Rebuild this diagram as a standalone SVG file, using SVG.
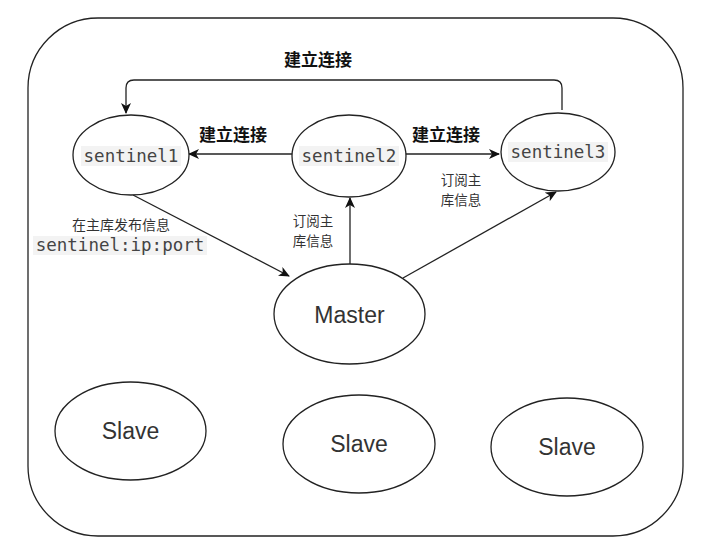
<svg xmlns="http://www.w3.org/2000/svg" width="702" height="558" viewBox="0 0 702 558">
<defs>
<marker id="arr" markerWidth="12" markerHeight="10" refX="10" refY="5" orient="auto" markerUnits="userSpaceOnUse">
<path d="M0,0 L11,5 L0,10 L3,5 z" fill="#111"/>
</marker>
<style>
.node{fill:#fff;stroke:#222;stroke-width:1.3}
.conn{fill:none;stroke:#222;stroke-width:1.3;marker-end:url(#arr)}
.mono{font-family:"DejaVu Sans Mono","Liberation Mono",monospace;font-size:17.5px;fill:#444;text-anchor:middle}
.bg{fill:#f3f3f3}
.big{font-family:"Liberation Sans",Arial,sans-serif;font-size:23px;fill:#333;text-anchor:middle}
.lbl{font-family:"Noto Sans CJK SC","DejaVu Sans",sans-serif;font-size:14px;fill:#333;text-anchor:middle}
.lbl2{font-family:"Noto Sans CJK SC","DejaVu Sans",sans-serif;font-size:13.5px;fill:#333;text-anchor:middle}
.bold{font-family:"Noto Sans CJK SC","DejaVu Sans",sans-serif;font-size:17px;font-weight:bold;fill:#111;text-anchor:middle}
</style>
</defs>
<rect x="28" y="18" width="655" height="518" rx="70" ry="70" fill="#fff" stroke="#222" stroke-width="1.3"/>
<g id="connectors">
<path class="conn" d="M562,110 L562,88 Q562,80 554,80 L134,80 Q126,80 126,88 L126,113"/>
<line class="conn" x1="292" y1="154" x2="189" y2="154"/>
<line class="conn" x1="406" y1="154" x2="499" y2="154"/>
<line class="conn" x1="133" y1="195" x2="289" y2="276"/>
<line class="conn" x1="350" y1="264" x2="350" y2="198"/>
<line class="conn" x1="403" y1="278" x2="556" y2="192"/>
<text class="bold" x="318" y="66">建立连接</text>
<text class="bold" x="233" y="141">建立连接</text>
<text class="bold" x="446" y="141">建立连接</text>
<text class="lbl" x="121" y="230">在主库发布信息</text>
<rect class="bg" x="33" y="236" width="174" height="19"/>
<text class="mono" x="120" y="251">sentinel:ip:port</text>
<text class="lbl2" x="313" y="226">订阅主</text>
<text class="lbl2" x="313" y="246">库信息</text>
<text class="lbl2" x="461" y="185">订阅主</text>
<text class="lbl2" x="461" y="205">库信息</text>
</g>
<g id="sentinel1">
<ellipse class="node" cx="131" cy="155" rx="58" ry="40"/>
<rect class="bg" x="81" y="146" width="100" height="20"/>
<text class="mono" x="131" y="162">sentinel1</text>
</g>
<g id="sentinel2">
<ellipse class="node" cx="349" cy="156" rx="57" ry="41"/>
<rect class="bg" x="299" y="146" width="100" height="20"/>
<text class="mono" x="349" y="162">sentinel2</text>
</g>
<g id="sentinel3">
<ellipse class="node" cx="558" cy="152" rx="57" ry="39"/>
<rect class="bg" x="508" y="142" width="100" height="20"/>
<text class="mono" x="558" y="158">sentinel3</text>
</g>
<g id="master">
<ellipse class="node" cx="349.5" cy="314" rx="75.5" ry="50"/>
<text class="big" x="349.5" y="323">Master</text>
</g>
<g id="slave1">
<ellipse class="node" cx="130.5" cy="431" rx="75.5" ry="49"/>
<text class="big" x="130.5" y="439">Slave</text>
</g>
<g id="slave2">
<ellipse class="node" cx="359" cy="444" rx="76" ry="49"/>
<text class="big" x="359" y="452">Slave</text>
</g>
<g id="slave3">
<ellipse class="node" cx="567" cy="447" rx="76" ry="49"/>
<text class="big" x="567" y="455">Slave</text>
</g>
</svg>
